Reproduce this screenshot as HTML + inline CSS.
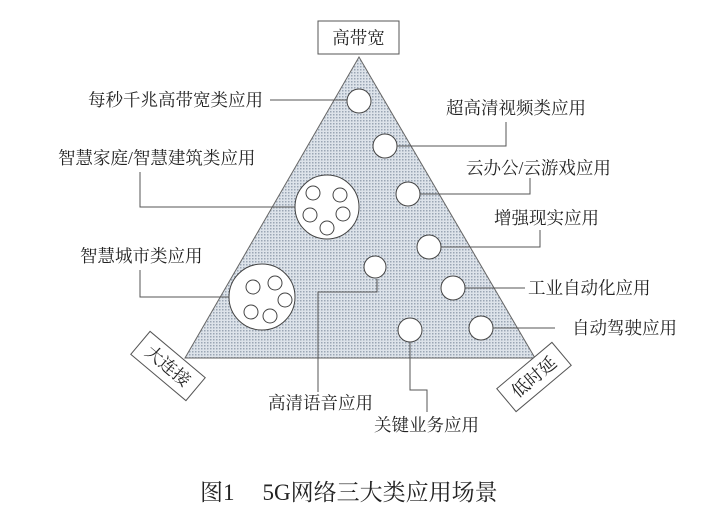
<!DOCTYPE html>
<html><head><meta charset="utf-8"><style>
body{margin:0;background:#fff}
svg text{font-family:"Liberation Serif","Noto Serif CJK SC","Noto Serif CJK JP",serif;font-size:17.5px;fill:#222}
</style></head><body>
<svg width="726" height="523" viewBox="0 0 726 523" xmlns="http://www.w3.org/2000/svg">
<defs><pattern id="p" width="3" height="3" patternUnits="userSpaceOnUse"><rect width="3" height="3" fill="#dde3ea"/><rect width="1.5" height="1.5" fill="#9aa6b4"/></pattern></defs>
<polygon points="359,57 185,358 535,358" fill="url(#p)" stroke="#666" stroke-width="1"/>
<rect x="318" y="21" width="81" height="33" fill="#fff" stroke="#555"/>
<text x="358.5" y="44" text-anchor="middle">高带宽</text>
<g fill="#fff" stroke="#444" stroke-width="1">
<circle cx="359" cy="101" r="12"/><circle cx="385" cy="146" r="12"/><circle cx="408" cy="194" r="12"/><circle cx="429" cy="247" r="12"/>
<circle cx="375" cy="267" r="11"/><circle cx="453" cy="288" r="12"/><circle cx="481" cy="328" r="12"/><circle cx="410" cy="330" r="12"/>
<circle cx="327" cy="207" r="32"/>
<circle cx="313" cy="193" r="7"/><circle cx="340" cy="195" r="7"/><circle cx="310" cy="215" r="7"/><circle cx="343" cy="214" r="7"/><circle cx="327" cy="228" r="7"/>
<circle cx="262" cy="297" r="33"/>
<circle cx="253" cy="287" r="7"/><circle cx="275" cy="283" r="7"/><circle cx="285" cy="300" r="7"/><circle cx="251" cy="312" r="7"/><circle cx="270" cy="316" r="7"/>
</g>
<g fill="none" stroke="#555" stroke-width="1">
<polyline points="270,100 347,100"/>
<polyline points="397,146 506,146 506,122"/>
<polyline points="420,194 530,194 530,178"/>
<polyline points="441,247 540,247 540,230"/>
<polyline points="465,288 525,288"/>
<polyline points="493,328 555,328"/>
<polyline points="140,172 140,207 295,207"/>
<polyline points="140,270 140,297 229,297"/>
<polyline points="318,392 318,292 377,292 377,279"/>
<polyline points="410,342 410,390 427,390 427,412"/>
</g>
<text x="88" y="106">每秒千兆高带宽类应用</text>
<text x="446" y="114">超高清视频类应用</text>
<text x="466" y="174">云办公/云游戏应用</text>
<text x="494" y="224">增强现实应用</text>
<text x="528" y="294">工业自动化应用</text>
<text x="572" y="334">自动驾驶应用</text>
<text x="58" y="164">智慧家庭/智慧建筑类应用</text>
<text x="80" y="262">智慧城市类应用</text>
<text x="268" y="409">高清语音应用</text>
<text x="374" y="431">关键业务应用</text>
<g transform="translate(168,366) rotate(40)"><rect x="-36" y="-15" width="72" height="30" fill="#fff" stroke="#555"/><text x="0" y="6" text-anchor="middle">大连接</text></g>
<g transform="translate(534,377) rotate(-40)"><rect x="-36" y="-15" width="72" height="30" fill="#fff" stroke="#555"/><text x="0" y="6" text-anchor="middle">低时延</text></g>
<text x="200" y="500" style="font-size:23px">图1<tspan dx="28">5G网络三大类应用场景</tspan></text>
</svg>
</body></html>
